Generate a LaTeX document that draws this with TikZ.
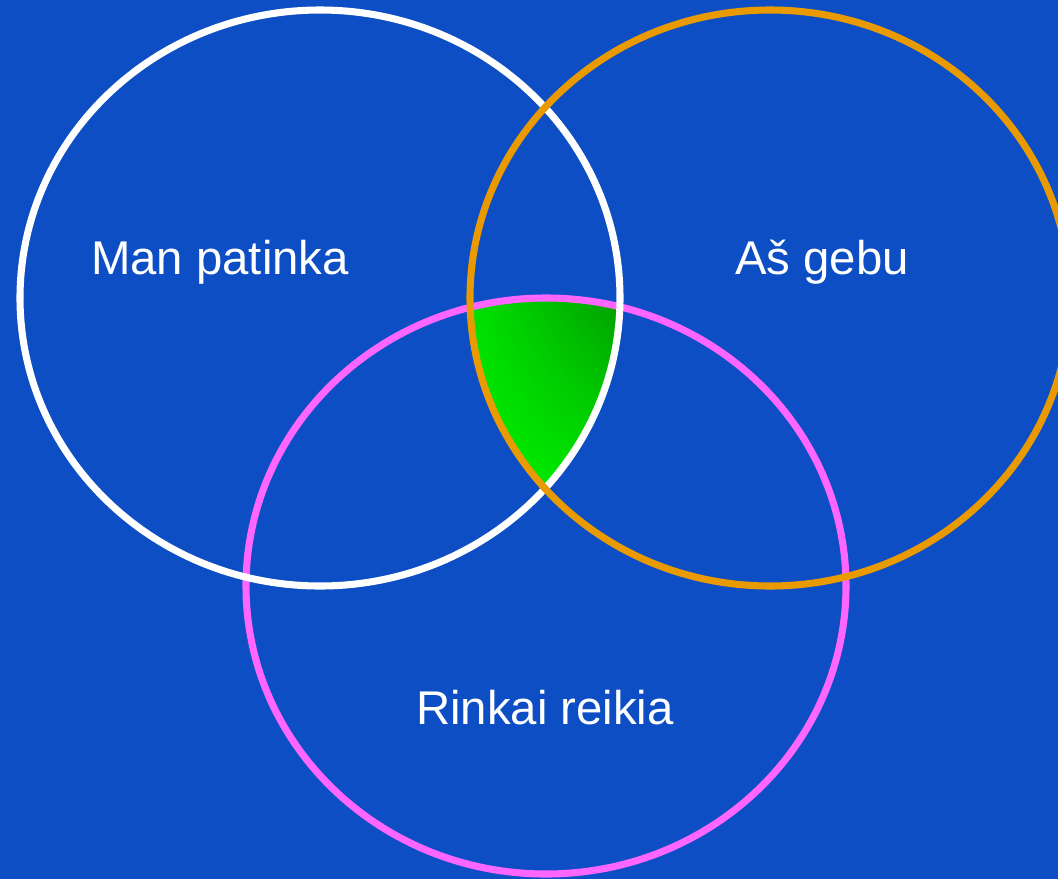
\documentclass[tikz,border=0pt]{standalone}
\usepackage{fontspec}
\setmainfont{Liberation Sans}
\usepackage{xcolor}
\usetikzlibrary{positioning, calc, shadings}
\definecolor{bgblue}{HTML}{0D4EC4}
\definecolor{ringorange}{HTML}{E89A00}
\definecolor{ringpink}{HTML}{FF66FF}
\definecolor{greenlight}{HTML}{00F000}
\definecolor{greendark}{HTML}{009A00}
\tikzset{
  ring/.style={line width=5.3pt},
  vennlabel/.style={text=white, font=\fontsize{35.5}{40}\selectfont, inner sep=0pt}
}

\begin{document}
\begin{tikzpicture}[x=0.75pt, y=-0.75pt]
    \fill[bgblue] (0,0) rectangle (1058,879);
    \clip (0,0) rectangle (1058,879);

    \coordinate (like) at (320,298);
    \coordinate (can) at (770,298);
    \coordinate (need) at (546,586);

    \begin{scope}
      \clip (like) ellipse [x radius=300, y radius=288];
      \clip (can) ellipse [x radius=300, y radius=288];
      \clip (need) ellipse [x radius=300, y radius=288];
      \shade[upper right=greendark, lower left=greenlight, upper left=greenlight!85!greendark, lower right=greenlight!85!greendark]
        (465,295) rectangle (625,495);
    \end{scope}

    \draw[ring, ringpink] (need) ellipse [x radius=300, y radius=288];
    \draw[ring, white] (like) ellipse [x radius=300, y radius=288];
    \draw[ring, ringorange] (can) ellipse [x radius=300, y radius=288];

    \node[vennlabel] at (220,262) (likelabel) {Man patinka};
    \node[vennlabel] at (822,262) (canlabel) {Aš gebu};
    \node[vennlabel] at (545,708) (needlabel) {Rinkai reikia};
  \end{tikzpicture}
\end{document}
